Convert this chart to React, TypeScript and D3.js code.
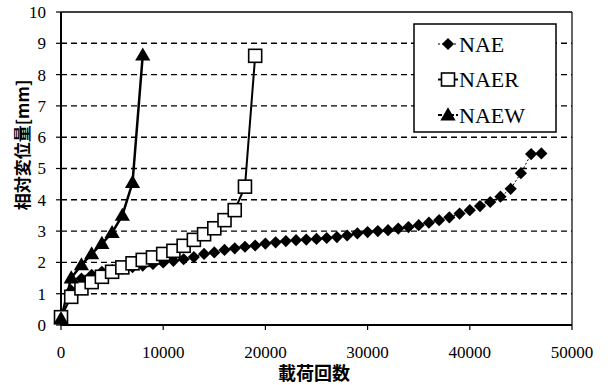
import React from 'react';
import * as d3 from 'd3';

// load cycles (every 1000) and relative displacement [mm]
const naeCycles = d3.range(0, 48000, 1000);
const naeValues = [
  0.2, 1.1, 1.48, 1.6, 1.7, 1.75, 1.8, 1.85, 1.9, 1.95, 2.0,
  2.05, 2.1, 2.17, 2.27, 2.32, 2.4, 2.45, 2.5, 2.54, 2.6,
  2.64, 2.68, 2.71, 2.73, 2.75, 2.78, 2.81, 2.86, 2.93, 2.97,
  3.0, 3.03, 3.08, 3.13, 3.19, 3.27, 3.35, 3.44, 3.56, 3.67,
  3.8, 3.93, 4.1, 4.35, 4.85, 5.46, 5.48,
];

const naerCycles = d3.range(0, 20000, 1000);
const naerValues = [
  0.25, 0.9, 1.17, 1.37, 1.54, 1.7, 1.84, 1.97, 2.08, 2.16,
  2.27, 2.37, 2.53, 2.72, 2.9, 3.09, 3.35, 3.67, 4.42, 8.6,
];

const naewCycles = d3.range(0, 9000, 1000);
const naewValues = [0.2, 1.5, 1.92, 2.27, 2.6, 2.95, 3.5, 4.55, 8.62];

const xTicks = [0, 10000, 20000, 30000, 40000, 50000];
const yTicks = [0, 1, 2, 3, 4, 5, 6, 7, 8, 9, 10];
const legendNames = ['NAE', 'NAER', 'NAEW'];

const margin = { top: 12, right: 36, bottom: 60, left: 61 };
const W = 608;
const H = 385;

const x = d3.scaleLinear().domain([0, 50000]).range([margin.left, W - margin.right]);
const y = d3.scaleLinear().domain([0, 10]).range([H - margin.bottom, margin.top]);

const serif = 'Liberation Serif';
const cjk = 'Noto Sans CJK JP';

const diamond = d3.symbol().type(d3.symbolDiamond2).size(95)();
const triangle = d3.symbol().type(d3.symbolTriangle).size(100)();

const zip = (xs: number[], ys: number[]) => xs.map((c, i) => [c, ys[i]] as [number, number]);

const line = d3.line<[number, number]>()
  .x(d => x(d[0]))
  .y(d => y(d[1]));

const Marker = ({ kind, cx, cy }: { kind: string; cx: number; cy: number }) => {
  if (kind === 'NAE') {
    return <path d={diamond} transform={`translate(${cx},${cy})`} fill="#000" />;
  }
  if (kind === 'NAER') {
    return <rect x={cx - 6.5} y={cy - 6.5} width={13} height={13} fill="#fff" stroke="#000" strokeWidth={1.6} />;
  }
  return <path d={triangle} transform={`translate(${cx},${cy + 1})`} fill="#000" />;
};

export default function App() {
  const nae = zip(naeCycles, naeValues);
  const naer = zip(naerCycles, naerValues);
  const naew = zip(naewCycles, naewValues);
  const x0 = x(0), x1 = x(50000), yb = y(0), yt = y(10);

  return (
    <svg width={W} height={H} style={{ position: 'absolute', left: 0, top: 0, background: '#fff' }}>
      {/* grid */}
      {yTicks.filter(t => t > 0 && t < 10).map(t => (
        <line key={t} x1={x0} x2={x1} y1={y(t)} y2={y(t)} stroke="#000" strokeWidth={1.4} strokeDasharray="6,4" />
      ))}
      {/* frame */}
      <line x1={x0} x2={x1} y1={yt} y2={yt} stroke="#000" strokeWidth={1.5} />
      <line x1={x1} x2={x1} y1={yt} y2={yb} stroke="#000" strokeWidth={1.2} />
      <line x1={x0} x2={x1} y1={yb} y2={yb} stroke="#000" strokeWidth={2} />
      <line x1={x0} x2={x0} y1={yt} y2={yb} stroke="#000" strokeWidth={2} />

      {/* y axis */}
      {yTicks.map(t => (
        <g key={t}>
          <line x1={x0 - 5} x2={x0} y1={y(t)} y2={y(t)} stroke="#000" strokeWidth={1.2} />
          <text x={46} y={y(t)} dy="0.35em" textAnchor="end" fontFamily={serif} fontSize={17}>{t}</text>
        </g>
      ))}
      {/* x axis */}
      {xTicks.map(t => (
        <g key={t}>
          <line x1={x(t)} x2={x(t)} y1={yb} y2={yb + 5} stroke="#000" strokeWidth={1.2} />
          <text x={x(t)} y={358} textAnchor="middle" fontFamily={serif} fontSize={17}>{t}</text>
        </g>
      ))}

      <text x={314} y={380} textAnchor="middle" fontFamily={cjk} fontWeight="bold" fontSize={18}>載荷回数</text>
      <text transform={`translate(29,145) rotate(-90)`} textAnchor="middle" fontFamily={cjk} fontWeight="bold" fontSize={17}>相対変位量[mm]</text>

      {/* series */}
      <path d={line(nae) ?? ''} fill="none" stroke="#000" strokeWidth={1} strokeDasharray="2,2" />
      <path d={line(naer) ?? ''} fill="none" stroke="#000" strokeWidth={2} />
      <path d={line(naew) ?? ''} fill="none" stroke="#000" strokeWidth={2.5} />
      {nae.map((d, i) => <Marker key={'a' + i} kind="NAE" cx={x(d[0])} cy={y(d[1])} />)}
      {naer.map((d, i) => <Marker key={'r' + i} kind="NAER" cx={x(d[0])} cy={y(d[1])} />)}
      {naew.map((d, i) => <Marker key={'w' + i} kind="NAEW" cx={x(d[0])} cy={y(d[1])} />)}

      {/* legend */}
      <rect x={414} y={24} width={142} height={108} fill="#fff" stroke="#000" strokeWidth={1.5} />
      {legendNames.map((name, i) => {
        const cy = 44 + i * 35.5;
        return (
          <g key={name}>
            <line x1={438} x2={458} y1={cy} y2={cy} stroke="#000" strokeWidth={name === 'NAE' ? 1 : 2}
              strokeDasharray={name === 'NAE' ? '2,2' : name === 'NAEW' ? '4,2' : undefined} />
            <Marker kind={name} cx={448} cy={cy} />
            <text x={459} y={cy} dy="0.35em" fontFamily={serif} fontSize={22}>{name}</text>
          </g>
        );
      })}
    </svg>
  );
}
